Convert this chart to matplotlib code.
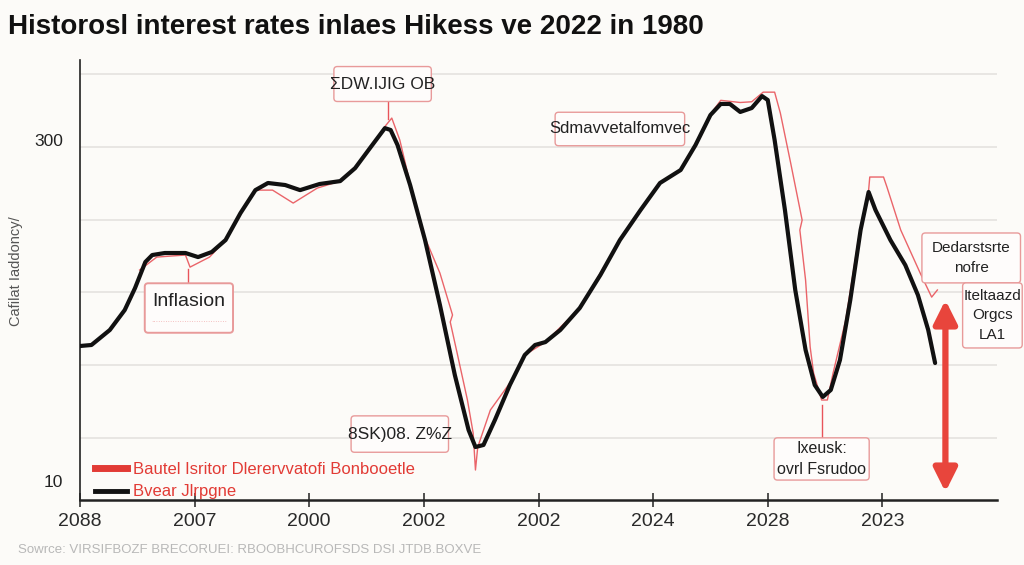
import numpy as np
import matplotlib
matplotlib.use("Agg")
import matplotlib.pyplot as plt
from matplotlib.patches import FancyBboxPatch

# ==========================================================
# Data
# ==========================================================

tick_pos = [0, 1, 2, 3, 4, 5, 6, 7]
tick_labels = ["2088", "2007", "2000", "2002", "2002", "2024", "2028", "2023"]

black_x = [0.00, 0.10, 0.26, 0.39, 0.48, 0.57, 0.63, 0.74, 0.92, 1.03, 1.15,
           1.27, 1.40, 1.53, 1.64, 1.79, 1.92, 2.09, 2.27, 2.40, 2.53, 2.66,
           2.71, 2.77, 2.88, 3.01, 3.14, 3.27, 3.39, 3.45, 3.52, 3.62, 3.75,
           3.88, 3.97, 4.06, 4.19, 4.36, 4.54, 4.71, 4.89, 5.06, 5.24, 5.37,
           5.50, 5.59, 5.67, 5.76, 5.86, 5.95, 6.00, 6.06, 6.15, 6.24, 6.33,
           6.41, 6.48, 6.55, 6.63, 6.72, 6.81, 6.88, 6.94, 7.07, 7.20, 7.31,
           7.40, 7.46]
black_y = [113.2, 113.9, 124.2, 137.9, 153.0, 170.9, 175.7, 177.1, 177.1,
           174.3, 177.8, 186.0, 204.5, 220.3, 225.2, 223.8, 220.3, 224.5,
           226.5, 235.4, 249.2, 262.9, 261.6, 251.3, 223.8, 186.0, 141.4,
           93.3, 55.5, 43.8, 45.2, 62.4, 86.4, 107.0, 113.9, 115.9, 124.2,
           139.3, 162.0, 186.0, 206.6, 225.2, 234.1, 251.3, 271.9, 279.5,
           279.5, 274.0, 276.7, 284.9, 282.2, 254.7, 206.6, 151.7, 110.5,
           86.4, 78.2, 83.0, 103.6, 144.8, 192.9, 219.0, 206.6, 186.0, 168.8,
           148.2, 124.2, 101.5]

red_x = [0.52, 0.67, 0.92, 0.96, 1.13, 1.27, 1.40, 1.53, 1.68, 1.86, 2.07,
         2.27, 2.40, 2.53, 2.66, 2.72, 2.79, 2.97, 3.14, 3.25, 3.23, 3.29,
         3.38, 3.43, 3.45, 3.47, 3.58, 3.75, 3.88, 4.06, 4.36, 4.71, 5.06,
         5.24, 5.37, 5.50, 5.59, 5.76, 5.86, 5.96, 6.06, 6.11, 6.20, 6.30,
         6.28, 6.33, 6.37, 6.40, 6.47, 6.52, 6.57, 6.68, 6.79, 6.88, 6.89,
         7.01, 7.04, 7.16, 7.33, 7.43, 7.48]
red_y = [165.4, 174.3, 175.7, 167.4, 174.3, 186.0, 204.5, 220.3, 220.3,
         211.4, 221.7, 226.5, 235.4, 249.2, 264.0, 269.8, 254.7, 194.9,
         163.3, 134.5, 129.7, 108.4, 76.1, 53.4, 28.0, 43.8, 69.2, 87.8,
         107.0, 115.9, 139.3, 186.0, 225.2, 234.1, 251.3, 272.5, 282.0,
         280.5, 281.0, 287.6, 287.6, 273.2, 238.9, 199.7, 192.9, 158.5,
         112.5, 94.6, 76.1, 76.1, 94.6, 131.0, 186.0, 220.3, 229.3, 229.3,
         222.4, 192.9, 163.3, 146.8, 151.7]

grid_values = [50, 100, 150, 200, 250, 300]
ytick_values = [20.5, 255]
ytick_labels = ["10", "300"]

red_label = "Bautel Isritor Dlerervvatofi Bonbooetle"
black_label = "Bvear Jlrpgne"

# ==========================================================
# Figure
# ==========================================================

bg = "#fcfbf8"
red = "#e23b35"
box_edge = "#e89a9a"
plt.rcParams["font.family"] = ["Liberation Sans", "DejaVu Sans"]

fig = plt.figure(figsize=(10.24, 5.65), dpi=100, facecolor=bg)
ax = fig.add_axes([80 / 1024, 65 / 565, 917 / 1024, 440 / 565], facecolor=bg)

ax.set_xlim(0, 8.0)
ax.set_ylim(7.4, 309.7)

for g in grid_values:
    ax.axhline(g, color="#e4e2df", lw=1.2, zorder=0)

ax.plot(red_x, red_y, color="#e8545a", lw=1.0, alpha=0.9, zorder=2)
ax.plot(black_x, black_y, color="#111111", lw=3.0, solid_capstyle="round",
        solid_joinstyle="round", zorder=3)

# legend
ax.plot([], [], color=red, lw=5, label=red_label)
ax.plot([], [], color="#111111", lw=3.5, label=black_label)
leg = ax.legend(loc="upper left", bbox_to_anchor=(0.004, 0.113), frameon=False,
                fontsize=12, handlelength=1.9, handletextpad=0.35,
                labelspacing=0.45, borderpad=0.2)
for t in leg.get_texts():
    t.set_color(red)

# spines / ticks
for s in ["top", "right"]:
    ax.spines[s].set_visible(False)
ax.spines["left"].set_color("#222222")
ax.spines["bottom"].set_color("#222222")
ax.spines["left"].set_linewidth(1.2)
ax.spines["bottom"].set_linewidth(1.8)

ax.set_xticks(tick_pos)
ax.set_xticklabels(tick_labels, fontsize=14, color="#2a2a2a")
ax.tick_params(axis="x", direction="inout", length=10, width=1.2,
               color="#333333", pad=4)
ax.set_yticks(ytick_values)
ax.set_yticklabels(ytick_labels, fontsize=12.5, color="#222222")
ax.tick_params(axis="y", length=0, pad=12)

ax.set_ylabel("Cafilat Iaddoncy/", fontsize=10.5, color="#555555", labelpad=14)
ax.yaxis.set_label_coords(-0.062, 0.52)


# ==========================================================
# Annotation boxes
# ==========================================================

def box(cx, cy, w, h, text, fs=12, lw=1.0):
    p = FancyBboxPatch((cx - w / 2, cy - h / 2), w, h,
                       boxstyle="round,pad=0,rounding_size=0.03",
                       mutation_aspect=78,
                       fc="#fefcfb", ec=box_edge, lw=lw, zorder=5,
                       clip_on=False)
    ax.add_patch(p)
    ax.text(cx, cy, text, ha="center", va="center", fontsize=fs,
            color="#222222", zorder=6, clip_on=False, linespacing=1.5)


def connector(x, y0, y1):
    ax.plot([x, x], [y0, y1], color="#e8545a", lw=1.0, zorder=4)


connector(0.94, 152.5, 166.0)
box(0.95, 139.3, 0.77, 34, "", fs=14, lw=1.4)
ax.text(0.95, 143.5, "Inflasion", ha="center", va="center", fontsize=14,
        color="#222222", zorder=6)
ax.text(0.95, 130.5, "................................", ha="center",
        va="center", fontsize=6, color="#f0a8a8", zorder=6)

connector(2.69, 281.5, 269.0)
box(2.64, 293.2, 0.85, 24, "ΣDW.IJIG OB", fs=12.5)

box(4.71, 262.3, 1.13, 23, "Sdmavvetalfomvec", fs=12)

box(2.79, 52.7, 0.85, 25, "8SK)08. Z%Z", fs=12.5)

connector(6.47, 50.5, 73.0)
box(6.47, 35.6, 0.83, 29, "Ixeusk:\novrl Fsrudoo", fs=11.5)

box(7.775, 173.7, 0.86, 34.3, "Dedarstsrte\nnofre", fs=11)
box(7.96, 134.2, 0.52, 44.7, "Iteltaazd\nOrgcs\nLA1", fs=11)

# double headed arrow
ax.annotate("", xy=(7.55, 144.8), xytext=(7.55, 12.9),
            arrowprops=dict(arrowstyle="<|-|>,head_length=1.4,head_width=0.7",
                            color="#e8453c", lw=4.5, shrinkA=0, shrinkB=0),
            zorder=7)

# ==========================================================
# Title and source
# ==========================================================

fig.text(8 / 1024, 1 - 27 / 565,
         "Historosl interest rates inlaes Hikess ve 2022 in 1980",
         fontsize=20, fontweight="bold", color="#111111", va="center")
fig.text(18 / 1024, 1 - 550 / 565,
         "Sowrce: VIRSIFBOZF BRECORUEI: RBOOBHCUROFSDS DSI JTDB.BOXVE",
         fontsize=9.5, color="#b8b8b8", va="center")

fig.savefig("out.png", dpi=100, facecolor=bg)
